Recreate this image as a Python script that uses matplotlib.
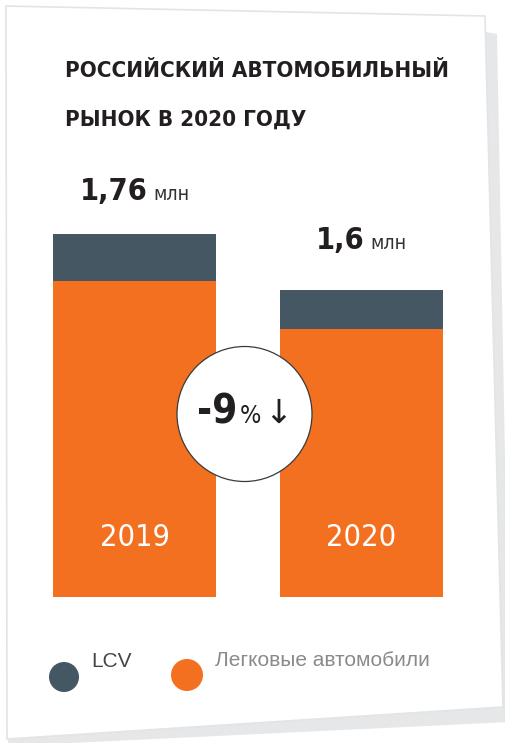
import matplotlib
matplotlib.use("Agg")
import matplotlib.pyplot as plt
from matplotlib import font_manager as fm
from matplotlib.patches import Polygon, Circle
from matplotlib.offsetbox import TextArea, HPacker, AnnotationBbox

# data
years = ["2019", "2020"]
cars = [1.626, 1.489]   # легковые, млн
lcv = [0.134, 0.111]    # LCV, млн
totals_text = ["1,76", "1,6"]
change_text = "-9"
title_lines = ["РОССИЙСКИЙ АВТОМОБИЛЬНЫЙ", "РЫНОК В 2020 ГОДУ"]
legend_labels = ["LCV", "Легковые автомобили"]

orange = "#f37021"
slate = "#465764"
dark = "#231f20"

# condensed face if the system has one
has_cond = any(f.name == "DejaVu Sans" and f.stretch == "condensed"
               for f in fm.fontManager.ttflist)
cond = dict(family=["DejaVu Sans"], fontstretch="condensed")

fig = plt.figure(figsize=(5.06, 7.43), dpi=100)

# paper card background (pixel coordinates)
bg = fig.add_axes([0, 0, 1, 1])
bg.set_xlim(0, 506)
bg.set_ylim(743, 0)
bg.axis("off")
bg.add_patch(Polygon([(486, 32), (497, 34), (510, 722), (8, 746), (8, 736)],
                     closed=True, fc="#e6e7e8", ec="none"))
bg.add_patch(Polygon([(6, 6), (485, 16), (503, 707), (7, 739)],
                     closed=True, fc="white", ec="#e3e4e6", lw=1.2))

# title
tsize = 16 if has_cond else 14
bg.text(65, 77, title_lines[0], fontsize=tsize, fontweight="bold", color=dark,
        va="baseline", **cond)
bg.text(65, 126, title_lines[1], fontsize=tsize, fontweight="bold", color=dark,
        va="baseline", **cond)

# bars
w = 163 / 227
base = 0.723
ax = fig.add_axes([53 / 506, (743 - 597) / 743, 390 / 506, 447 / 743])
ax.patch.set_alpha(0)
x = list(range(len(years)))
ax.bar(x, cars, width=w, color=orange)
ax.bar(x, lcv, width=w, bottom=cars, color=slate)
ax.set_xlim(-w / 2, 1 + w / 2)
ax.set_ylim(base, base + 447 / 350)
ax.axis("off")

pads = [20, 25]
for i in x:
    total = cars[i] + lcv[i]
    box = HPacker(children=[
        TextArea(totals_text[i], textprops=dict(fontsize=22, fontweight="bold",
                                                color=dark, **cond)),
        TextArea("млн", textprops=dict(fontsize=14, fontweight="light",
                                       color="#333333", **cond)),
    ], align="baseline", sep=4, pad=0)
    ax.add_artist(AnnotationBbox(box, (i, total), xybox=(0, pads[i]),
                                 boxcoords="offset points", box_alignment=(0.5, 0),
                                 frameon=False, annotation_clip=False))
    ax.text(i, base + (597 - 538) / 350, years[i], fontsize=22, color="white",
            ha="center", va="center", **cond)

# overlay: change circle and legend
top = fig.add_axes([0, 0, 1, 1])
top.set_xlim(0, 506)
top.set_ylim(743, 0)
top.axis("off")
top.add_patch(Circle((244.5, 414), 67.5, fc="white", ec="#3a3a3a", lw=0.9))
box = HPacker(children=[
    TextArea(change_text, textprops=dict(fontsize=29, fontweight="bold",
                                         color=dark, **cond)),
    TextArea("%", textprops=dict(fontsize=18, color=dark, **cond)),
    TextArea("↓", textprops=dict(family=["DejaVu Sans"], fontsize=24, color=dark)),
], align="baseline", sep=2, pad=0)
top.add_artist(AnnotationBbox(box, (244.5, 432), box_alignment=(0.5, 0),
                              frameon=False))

top.add_patch(Circle((64, 677), 15, fc=slate, ec="none"))
top.add_patch(Circle((187, 675), 16, fc=orange, ec="none"))
top.text(91, 667, legend_labels[0], family=["Liberation Sans", "DejaVu Sans"],
         fontsize=15, color="#444444", va="baseline")
top.text(215, 666, legend_labels[1], family=["Liberation Sans", "DejaVu Sans"],
         fontsize=15, color="#8a8a8a", va="baseline")

fig.savefig("out.png", dpi=100)
